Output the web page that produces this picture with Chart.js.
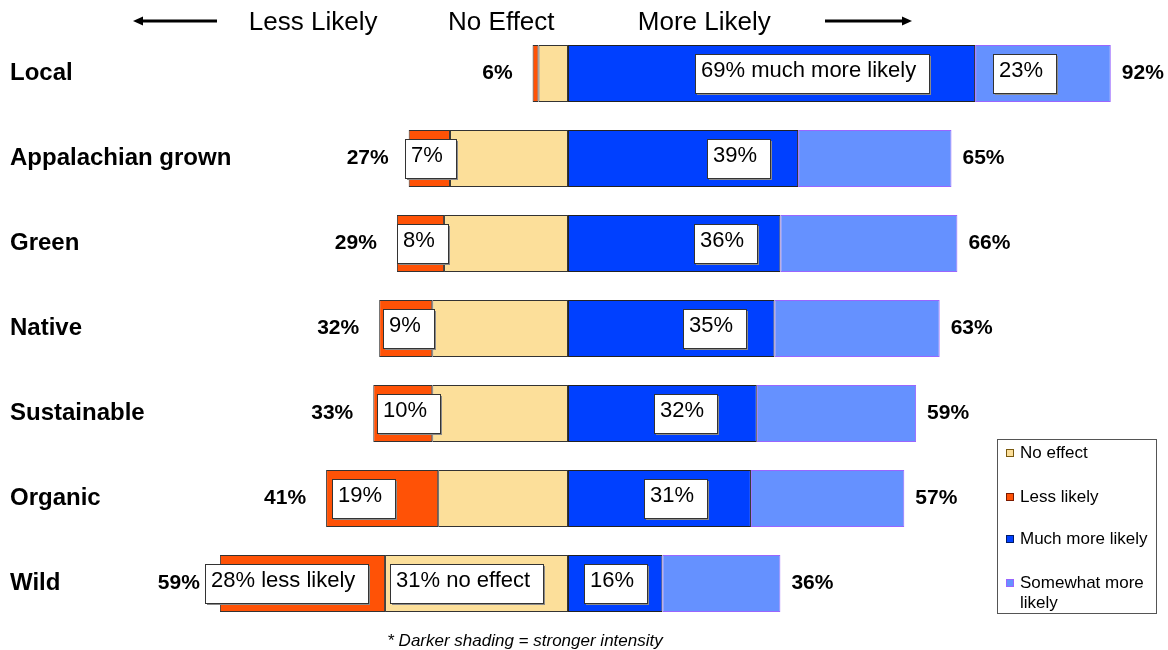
<!DOCTYPE html>
<html>
<head>
<meta charset="utf-8">
<script src="https://cdn.jsdelivr.net/npm/chart.js@4/dist/chart.umd.min.js"></script>
<style>
  html, body { margin: 0; padding: 0; background: #fff; }
  #wrap { width: 1168px; height: 650px; position: relative; }
</style>
</head>
<body>
<div id="wrap"><canvas id="graficoDivergente"></canvas></div>
<script>
const categorias = ['Local', 'Appalachian grown', 'Green', 'Native', 'Sustainable', 'Organic', 'Wild'];
const lessLikely = [1, 7, 8, 9, 10, 19, 28];
const noEffect = [5, 20, 21, 23, 23, 22, 31];
const muchMore = [69, 39, 36, 35, 32, 31, 16];
const somewhatMore = [23, 26, 30, 28, 27, 26, 20];
const totalEsq = [6, 27, 29, 32, 33, 41, 59];
const totalDir = [92, 65, 66, 63, 59, 57, 36];

const txtLess = ['', '7%', '8%', '9%', '10%', '19%', '28% less likely'];
const txtNoEffect = ['', '', '', '', '', '', '31% no effect'];
const txtMuch = ['69% much more likely', '39%', '36%', '35%', '32%', '31%', '16%'];
const txtSomewhat = ['23%', '', '', '', '', '', ''];

// where the white label boxes start (in % units on the x scale), placed by hand in the original
const posLess = [null, -27.6, -29, -31.4, -32.4, -40, -61.5];
const posNoEffect = [null, null, null, null, null, null, -30.2];
const posMuch = [21.5, 23.6, 21.4, 19.5, 14.6, 12.9, 2.7];
const posSomewhat = [72, null, null, null, null, null, null];

const FONTE = '"Liberation Sans", Arial, sans-serif';

function caixa(ctx, texto, xp, yc) {
  ctx.font = '22px ' + FONTE;
  const w = Math.round(ctx.measureText(texto).width + 19);
  const h = 39;
  const top = Math.round(yc - h / 2);
  xp = Math.round(xp);
  ctx.fillStyle = '#8a8a8a';
  ctx.fillRect(xp + 2, top + 2, w, h);
  ctx.fillStyle = '#fff';
  ctx.fillRect(xp, top, w, h);
  ctx.strokeStyle = '#333';
  ctx.lineWidth = 1;
  ctx.strokeRect(xp + 0.5, top + 0.5, w, h);
  ctx.fillStyle = '#000';
  ctx.textAlign = 'left';
  ctx.textBaseline = 'alphabetic';
  ctx.fillText(texto, xp + 6, top + 23);
}

function seta(ctx, x1, x2, y) {
  const dir = Math.sign(x2 - x1);
  ctx.strokeStyle = '#000';
  ctx.fillStyle = '#000';
  ctx.lineWidth = 3;
  ctx.beginPath();
  ctx.moveTo(x1, y);
  ctx.lineTo(x2 - dir * 8, y);
  ctx.stroke();
  ctx.beginPath();
  ctx.moveTo(x2, y);
  ctx.lineTo(x2 - dir * 10, y - 4.5);
  ctx.lineTo(x2 - dir * 10, y + 4.5);
  ctx.closePath();
  ctx.fill();
}

const anotacoes = {
  id: 'anotacoes',
  afterDatasetsDraw(chart) {
    const { ctx, scales: { x, y } } = chart;
    ctx.save();
    categorias.forEach((c, i) => {
      const yc = y.getPixelForValue(i);
      // totals
      ctx.font = 'bold 21px ' + FONTE;
      ctx.fillStyle = '#000';
      ctx.textBaseline = 'middle';
      ctx.textAlign = 'right';
      ctx.fillText(totalEsq[i] + '%', x.getPixelForValue(-totalEsq[i]) - 20, yc);
      ctx.textAlign = 'left';
      ctx.fillText(totalDir[i] + '%', x.getPixelForValue(totalDir[i]) + 11, yc);
      // boxes
      if (txtLess[i]) caixa(ctx, txtLess[i], x.getPixelForValue(posLess[i]), yc);
      if (txtNoEffect[i]) caixa(ctx, txtNoEffect[i], x.getPixelForValue(posNoEffect[i]), yc);
      if (txtMuch[i]) caixa(ctx, txtMuch[i], x.getPixelForValue(posMuch[i]), yc);
      if (txtSomewhat[i]) caixa(ctx, txtSomewhat[i], x.getPixelForValue(posSomewhat[i]), yc);
    });
    ctx.restore();
  },
  afterDraw(chart) {
    const { ctx, scales: { x } } = chart;
    ctx.save();
    // header
    ctx.font = '26px ' + FONTE;
    ctx.fillStyle = '#000';
    ctx.textBaseline = 'alphabetic';
    ctx.textAlign = 'center';
    ctx.fillText('Less Likely', x.getPixelForValue(-43.2), 30);
    ctx.fillText('No Effect', x.getPixelForValue(-11.3), 30);
    ctx.fillText('More Likely', x.getPixelForValue(23.1), 30);
    seta(ctx, 217, 133, 21);
    seta(ctx, 825, 912, 21);

    // legend
    ctx.fillStyle = '#fff';
    ctx.fillRect(997, 439, 159, 174);
    ctx.strokeStyle = '#555';
    ctx.lineWidth = 1;
    ctx.strokeRect(997.5, 439.5, 159, 174);
    const itens = [
      { ds: 0, linhas: ['No effect'], y: 453 },
      { ds: 1, linhas: ['Less likely'], y: 497 },
      { ds: 2, linhas: ['Much more likely'], y: 539 },
      { ds: 3, linhas: ['Somewhat more', 'likely'], y: 583 }
    ];
    ctx.font = '17px ' + FONTE;
    ctx.textAlign = 'left';
    ctx.textBaseline = 'middle';
    itens.forEach(it => {
      const d = chart.data.datasets[it.ds];
      ctx.fillStyle = d.backgroundColor;
      ctx.fillRect(1006, it.y - 4, 8, 8);
      ctx.strokeStyle = d.legendBorder;
      ctx.strokeRect(1006.5, it.y - 3.5, 7, 7);
      ctx.fillStyle = '#000';
      it.linhas.forEach((l, k) => ctx.fillText(l, 1020, it.y + k * 20));
    });

    // footnote
    ctx.font = 'italic 17px ' + FONTE;
    ctx.textAlign = 'center';
    ctx.fillText('* Darker shading = stronger intensity', 525, 641);
    ctx.restore();
  }
};

const ctxDiv = document.getElementById('graficoDivergente');
new Chart(ctxDiv, {
  type: 'bar',
  data: {
    labels: categorias,
    datasets: [
      {
        label: 'No effect',
        data: noEffect.map(v => -v),
        backgroundColor: '#FCDF9A',
        borderColor: '#333',
        legendBorder: '#7a5a10',
        borderWidth: 1,
        borderSkipped: false
      },
      {
        label: 'Less likely',
        data: lessLikely.map(v => -v),
        backgroundColor: '#FF5206',
        borderColor: '#333',
        legendBorder: '#7a1a00',
        borderWidth: 1,
        borderSkipped: false
      },
      {
        label: 'Much more likely',
        data: muchMore,
        backgroundColor: '#0040FF',
        borderColor: '#222',
        legendBorder: '#001a66',
        borderWidth: 1,
        borderSkipped: false
      },
      {
        label: 'Somewhat more likely',
        data: somewhatMore,
        backgroundColor: '#6591FF',
        borderColor: '#9966FF',
        legendBorder: '#9966FF',
        borderWidth: 1,
        borderSkipped: false
      }
    ]
  },
  options: {
    indexAxis: 'y',
    responsive: true,
    maintainAspectRatio: false,
    animation: false,
    layout: { padding: { left: 10, right: 8, top: 31, bottom: 24 } },
    datasets: { bar: { categoryPercentage: 1, barPercentage: 0.67, clip: false } },
    plugins: {
      legend: { display: false },
      tooltip: { enabled: false }
    },
    scales: {
      x: {
        stacked: true,
        min: -55.59,
        max: 100.34,
        display: false
      },
      y: {
        stacked: true,
        grid: { display: false },
        border: { display: false },
        afterFit(scale) { scale.width = 230; },
        ticks: {
          crossAlign: 'far',
          autoSkip: false,
          padding: 0,
          color: '#000',
          font: { family: FONTE, size: 24, weight: 'bold' }
        }
      }
    }
  },
  plugins: [anotacoes]
});
</script>
</body>
</html>
